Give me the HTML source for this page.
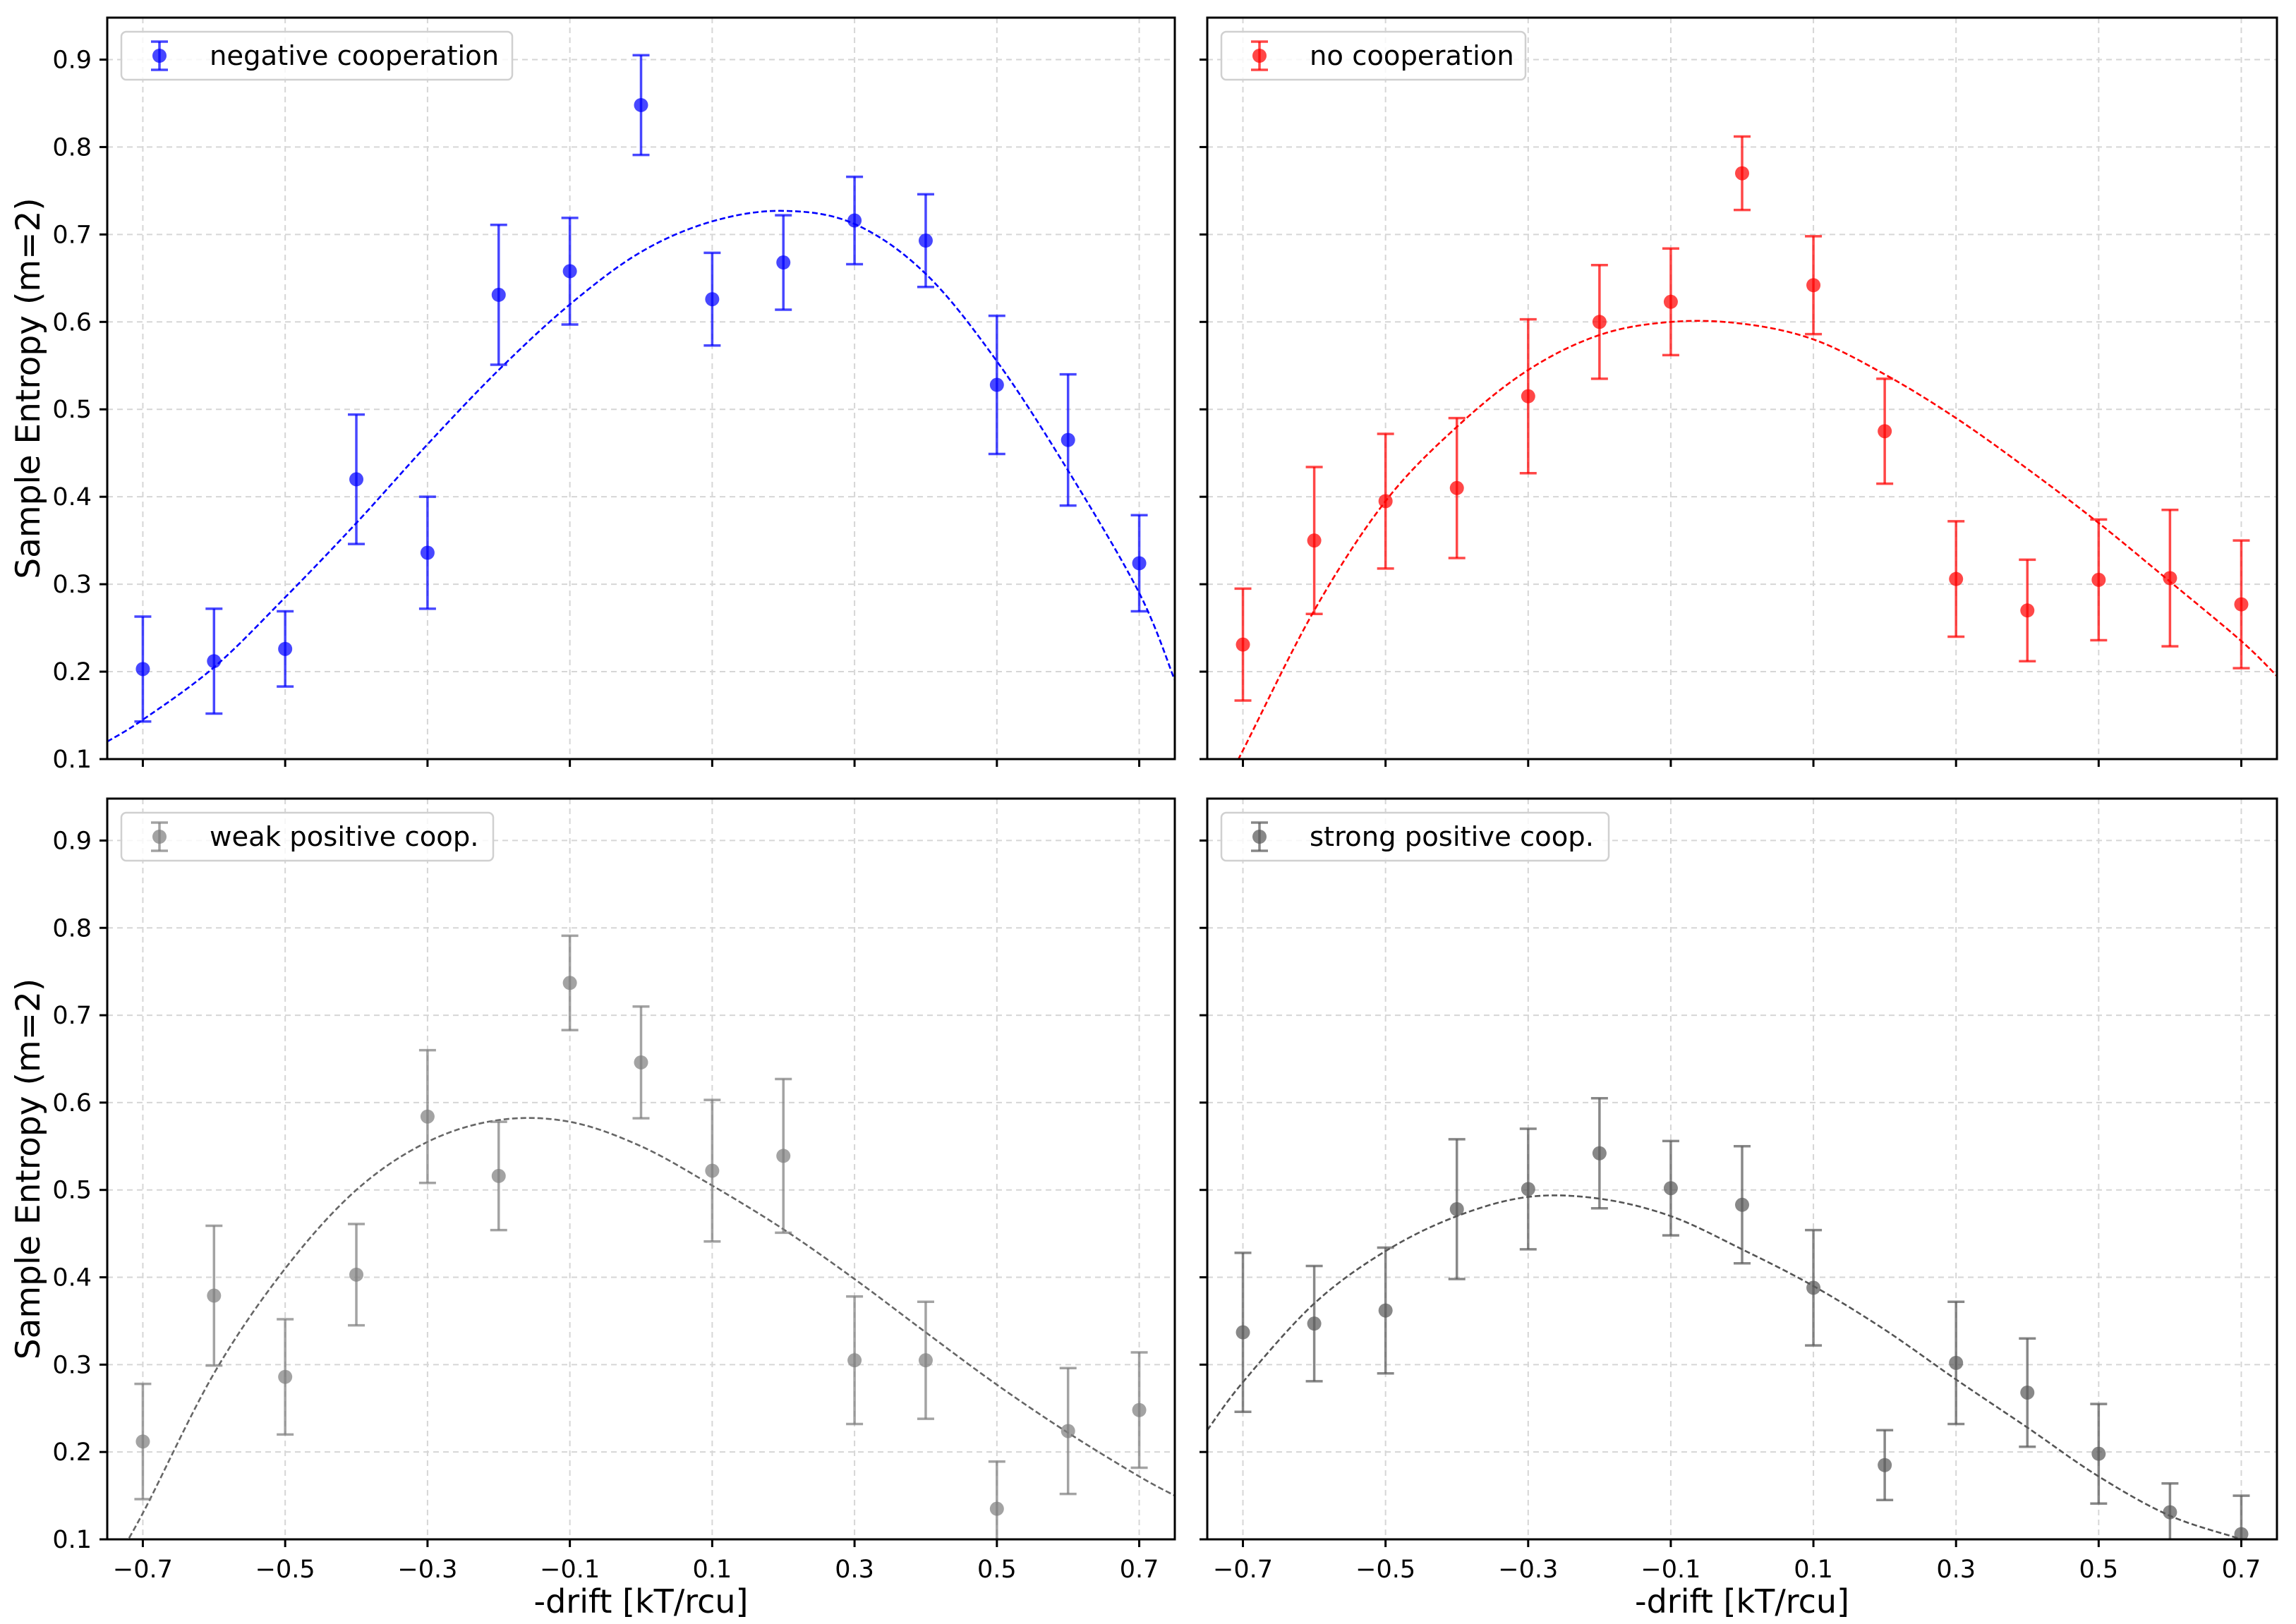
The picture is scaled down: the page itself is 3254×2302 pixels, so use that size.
<!DOCTYPE html>
<html><head><meta charset="utf-8">
<style>
html,body{margin:0;padding:0;background:#fff;}
svg{display:block;font-family:"DejaVu Sans","Liberation Sans",sans-serif;}
</style></head>
<body>
<svg id="fig" width="3254" height="2302" viewBox="0 0 3254 2302" xmlns="http://www.w3.org/2000/svg"></svg>
<script>
const xs = [-0.7,-0.6,-0.5,-0.4,-0.3,-0.2,-0.1,0.0,0.1,0.2,0.3,0.4,0.5,0.6,0.7];
const negVals = [0.203,0.212,0.226,0.420,0.336,0.631,0.658,0.848,0.626,0.668,0.716,0.693,0.528,0.465,0.324];
const negErr  = [0.060,0.060,0.043,0.074,0.064,0.080,0.061,0.057,0.053,0.054,0.050,0.053,0.079,0.075,0.055];
const noVals  = [0.231,0.350,0.395,0.410,0.515,0.600,0.623,0.770,0.642,0.475,0.306,0.270,0.305,0.307,0.277];
const noErr   = [0.064,0.084,0.077,0.080,0.088,0.065,0.061,0.042,0.056,0.060,0.066,0.058,0.069,0.078,0.073];
const weakVals= [0.212,0.379,0.286,0.403,0.584,0.516,0.737,0.646,0.522,0.539,0.305,0.305,0.135,0.224,0.248];
const weakErr = [0.066,0.080,0.066,0.058,0.076,0.062,0.054,0.064,0.081,0.088,0.073,0.067,0.054,0.072,0.066];
const strVals = [0.337,0.347,0.362,0.478,0.501,0.542,0.502,0.483,0.388,0.185,0.302,0.268,0.198,0.131,0.106];
const strErr  = [0.091,0.066,0.072,0.080,0.069,0.063,0.054,0.067,0.066,0.040,0.070,0.062,0.057,0.033,0.044];
const fitX    = [-0.75,-0.7,-0.6,-0.5,-0.4,-0.3,-0.2,-0.1,0.0,0.1,0.2,0.3,0.4,0.5,0.6,0.7,0.75];
const negFit  = [0.120,0.145,0.205,0.285,0.370,0.460,0.545,0.620,0.680,0.715,0.727,0.712,0.655,0.555,0.430,0.290,0.190];
const noFit   = [0.030,0.110,0.270,0.395,0.480,0.545,0.585,0.600,0.598,0.580,0.540,0.490,0.432,0.370,0.303,0.235,0.195];
const weakFit = [0.060,0.130,0.290,0.410,0.500,0.555,0.580,0.578,0.550,0.505,0.455,0.398,0.337,0.277,0.222,0.172,0.150];
const strFit  = [0.225,0.280,0.370,0.430,0.470,0.492,0.490,0.470,0.432,0.390,0.340,0.283,0.228,0.172,0.127,0.100,0.085];
const xTicks = [-0.7,-0.5,-0.3,-0.1,0.1,0.3,0.5,0.7];
const xTickLabels = ["\u22120.7","\u22120.5","\u22120.3","\u22120.1","0.1","0.3","0.5","0.7"];
const yTicks = [0.1,0.2,0.3,0.4,0.5,0.6,0.7,0.8,0.9];
const yTickLabels = ["0.1","0.2","0.3","0.4","0.5","0.6","0.7","0.8","0.9"];

const NS="http://www.w3.org/2000/svg";
const svg=document.getElementById('fig');
function mk(tag,attrs,parent){const e=document.createElementNS(NS,tag);for(const k in attrs)e.setAttribute(k,attrs[k]);(parent||svg).appendChild(e);return e;}

const panels=[
 {name:'negative-cooperation',x0:152,x1:1665,y0:25,y1:1076,vals:negVals,err:negErr,fit:negFit,col:'rgba(0,0,255,0.72)',fitCol:'#0000ff',label:'negative cooperation',lw:554,ylab:true,xlab:false},
 {name:'no-cooperation',x0:1711,x1:3227,y0:25,y1:1076,vals:noVals,err:noErr,fit:noFit,col:'rgba(255,0,0,0.72)',fitCol:'#ff0000',label:'no cooperation',lw:431,ylab:false,xlab:false},
 {name:'weak-positive-coop',x0:152,x1:1665,y0:1132,y1:2182,vals:weakVals,err:weakErr,fit:weakFit,col:'rgba(128,128,128,0.72)',fitCol:'#666666',label:'weak positive coop.',lw:527,ylab:true,xlab:true},
 {name:'strong-positive-coop',x0:1711,x1:3227,y0:1132,y1:2182,vals:strVals,err:strErr,fit:strFit,col:'rgba(90,90,90,0.72)',fitCol:'#555555',label:'strong positive coop.',lw:549,ylab:false,xlab:true}
];
const XMIN=-0.75,XMAX=0.75,YMIN=0.1,YMAX=0.948;

panels.forEach((p,pi)=>{
 const sx=v=>p.x0+(v-XMIN)/(XMAX-XMIN)*(p.x1-p.x0);
 const sy=v=>p.y1-(v-YMIN)/(YMAX-YMIN)*(p.y1-p.y0);
 const g=mk('g',{});
 
 
 const cid='clip'+pi;
 const cp=mk('clipPath',{id:cid},g);
 mk('rect',{x:p.x0,y:p.y0,width:p.x1-p.x0,height:p.y1-p.y0},cp);
 xTicks.forEach(t=>{const l=mk('line',{x1:sx(t),x2:sx(t),y1:p.y0,y2:p.y1,stroke:'#d6d6d6','stroke-width':2,'stroke-dasharray':'8,6'},g);
  });
 yTicks.forEach(t=>{const l=mk('line',{x1:p.x0,x2:p.x1,y1:sy(t),y2:sy(t),stroke:'#d6d6d6','stroke-width':2,'stroke-dasharray':'8,6'},g);
  });
 const cg=mk('g',{'clip-path':'url(#'+cid+')'},g);
 const pts=fitX.map((x,i)=>[sx(x),sy(p.fit[i])]);
 let d='M'+pts[0][0]+','+pts[0][1];
 for(let i=0;i<pts.length-1;i++){
  const p0=pts[Math.max(0,i-1)],p1=pts[i],p2=pts[i+1],p3=pts[Math.min(pts.length-1,i+2)];
  const c1=[p1[0]+(p2[0]-p0[0])/6,p1[1]+(p2[1]-p0[1])/6];
  const c2=[p2[0]-(p3[0]-p1[0])/6,p2[1]-(p3[1]-p1[1])/6];
  d+=' C'+c1[0]+','+c1[1]+' '+c2[0]+','+c2[1]+' '+p2[0]+','+p2[1];
 }
 const fl=mk('path',{d:d,fill:'none',stroke:p.fitCol,'stroke-width':2.6,'stroke-dasharray':'8,4'},cg);
 
 
 xs.forEach((x,i)=>{
  const cx=sx(x),lo=sy(p.vals[i]-p.err[i]),hi=sy(p.vals[i]+p.err[i]);
  const eb=mk('g',{stroke:p.col,'stroke-width':3.5,fill:'none'},cg);
  
  
  mk('line',{x1:cx,x2:cx,y1:lo,y2:hi},eb);
  mk('line',{x1:cx-12,x2:cx+12,y1:lo,y2:lo},eb);
  mk('line',{x1:cx-12,x2:cx+12,y1:hi,y2:hi},eb);
  const c=mk('circle',{cx:cx,cy:sy(p.vals[i]),r:10,fill:p.col},cg);
  
  
 });
 const sp=mk('rect',{x:p.x0,y:p.y0,width:p.x1-p.x0,height:p.y1-p.y0,fill:'none',stroke:'#000','stroke-width':3},g);
 
 
 xTicks.forEach((t,i)=>{mk('line',{x1:sx(t),x2:sx(t),y1:p.y1,y2:p.y1+11,stroke:'#000','stroke-width':3},g);
  if(p.xlab){const tx=mk('text',{x:sx(t),y:p.y1+54,'font-size':35,'text-anchor':'middle',fill:'#000'},g);tx.textContent=xTickLabels[i];
   }});
 yTicks.forEach((t,i)=>{mk('line',{x1:p.x0-11,x2:p.x0,y1:sy(t),y2:sy(t),stroke:'#000','stroke-width':3},g);
  if(p.ylab){const tx=mk('text',{x:p.x0-22,y:sy(t)+12,'font-size':35,'text-anchor':'end',fill:'#000'},g);tx.textContent=yTickLabels[i];
   }});
 if(p.ylab){const yl=mk('text',{x:0,y:0,'font-size':47,'text-anchor':'middle',fill:'#000',transform:'translate(56,'+((p.y0+p.y1)/2)+') rotate(-90)'},g);
  yl.textContent='Sample Entropy (m=2)';}
 if(p.xlab){const xl=mk('text',{x:(p.x0+p.x1)/2,y:p.y1+104,'font-size':46,'text-anchor':'middle',fill:'#000'},g);
  xl.textContent='-drift [kT/rcu]';}
 const lg=mk('g',{},g);
 
 
 const lx=p.x0+20,ly=p.y0+20;
 mk('rect',{x:lx,y:ly,width:p.lw,height:68,rx:7,fill:'rgba(255,255,255,0.8)',stroke:'#d0d0d0','stroke-width':2.5},lg);
 const mx=lx+54,my=ly+34;
 mk('line',{x1:mx,x2:mx,y1:my-20,y2:my+20,stroke:p.col,'stroke-width':3.5},lg);
 mk('line',{x1:mx-12,x2:mx+12,y1:my-20,y2:my-20,stroke:p.col,'stroke-width':3.5},lg);
 mk('line',{x1:mx-12,x2:mx+12,y1:my+20,y2:my+20,stroke:p.col,'stroke-width':3.5},lg);
 mk('circle',{cx:mx,cy:my,r:10,fill:p.col},lg);
 const lt=mk('text',{x:lx+125,y:my+13,'font-size':38.5,fill:'#000'},lg);
 lt.textContent=p.label;
 
 
});
</script>
</body></html>
